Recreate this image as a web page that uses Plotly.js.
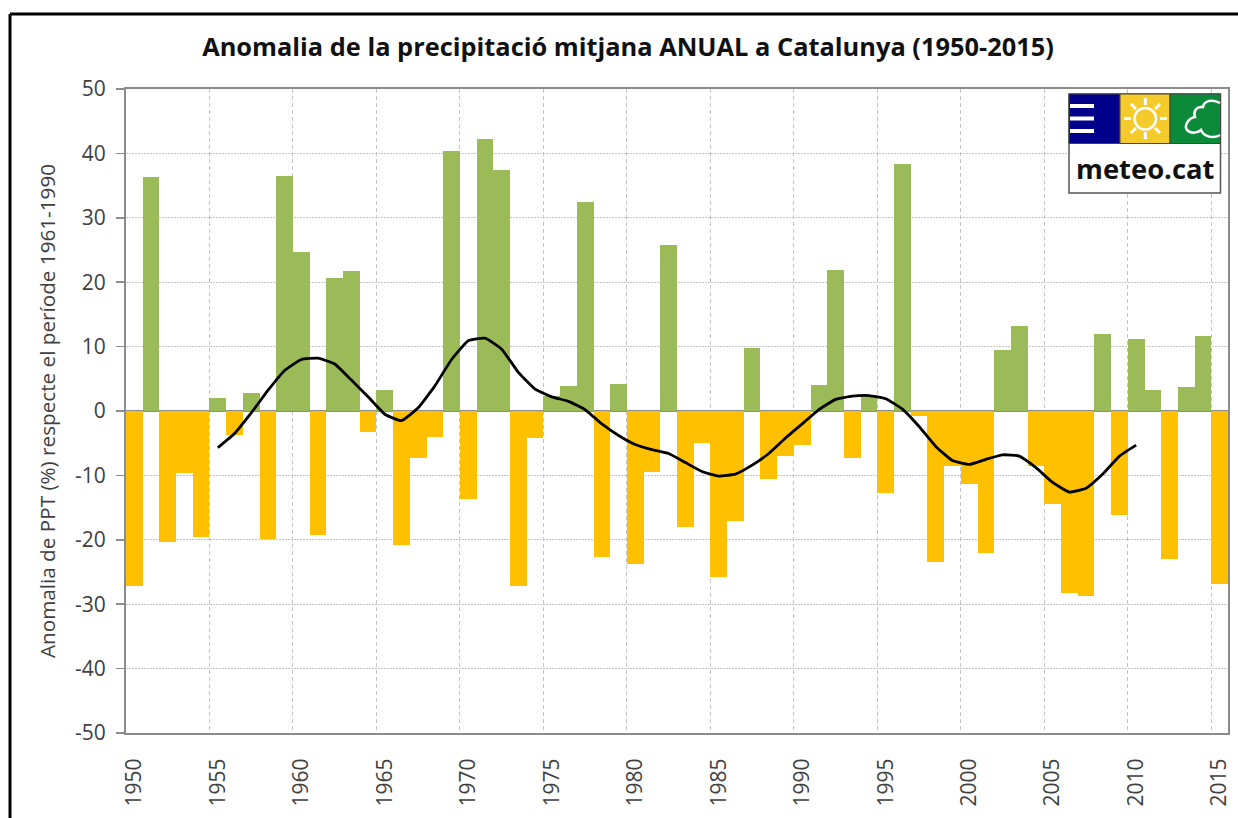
<!DOCTYPE html>
<html>
<head>
<meta charset="utf-8">
<script src="https://cdn.plot.ly/plotly-3.0.1.min.js"></script>
<style>html,body{margin:0;padding:0;background:#fff;overflow:hidden}#c{width:1238px;height:818px}</style>
</head>
<body>
<div id="c"></div>
<script>
const years = [];
for (let y = 1950; y <= 2015; y++) years.push(y);
const anomaly = [-27.2,36.4,-20.4,-9.6,-19.5,2.0,-3.8,2.8,-19.8,36.5,
  24.7,-19.2,20.6,21.8,-3.3,3.2,-20.8,-7.3,-4.0,40.3,
  -13.7,42.2,37.4,-27.1,-4.2,2.4,3.9,32.4,-22.6,4.2,
  -23.8,-9.4,25.8,-18.0,-4.9,-25.7,-17.1,9.8,-10.5,-7.0,
  -5.3,4.1,21.9,-7.3,2.4,-12.7,38.3,-0.7,-23.4,-8.6,
  -11.3,-22.0,9.5,13.2,-8.5,-14.4,-28.3,-28.7,12.0,-16.2,
  11.2,3.3,-23.0,3.8,11.7,-26.8];
const smoothYears = years.slice(5, 61);
const smoothed = [-5.7,-3.5,-0.3,3.2,6.3,8.0,8.2,7.3,4.8,2.2,
  -0.5,-1.5,0.5,3.9,8.0,10.9,11.3,9.6,6.0,3.4,
  2.2,1.5,0.2,-2.0,-3.8,-5.2,-6.0,-6.6,-8.0,-9.4,
  -10.1,-9.8,-8.4,-6.6,-4.2,-2.0,0.2,1.8,2.3,2.4,
  1.9,0.3,-2.4,-5.5,-7.7,-8.3,-7.5,-6.8,-7.0,-8.8,
  -11.1,-12.6,-12.0,-9.8,-7.0,-5.3];
const xTicks = [1950,1955,1960,1965,1970,1975,1980,1985,1990,1995,2000,2005,2010,2015];
const yTicks = [-50,-40,-30,-20,-10,0,10,20,30,40,50];
const GREEN = '#9BBB59', ORANGE = '#FFC000', FONT = '"Open Sans", sans-serif', TXT = '#404040';

const W = 1238, H = 818, L = 126, R = 1228, T = 89, B = 733;
const px = x => (x - L) / (R - L), py = y => (B - y) / (B - T);
const rect = (x0, y0, x1, y1, fill, line, lw) => ({type:'rect', xref:'paper', yref:'paper', layer:'above',
  x0:px(x0), x1:px(x1), y0:py(y0), y1:py(y1), fillcolor:fill, line:{color:line||fill, width:lw===undefined?0:lw}});
const seg = (x0, y0, x1, y1, c, w) => ({type:'line', xref:'paper', yref:'paper', layer:'above',
  x0:px(x0), x1:px(x1), y0:py(y0), y1:py(y1), line:{color:c, width:w}});

const shapes = [
  // outer frame
  seg(10, 14, 1238, 14, '#000', 3),
  seg(10, 14, 10, 818, '#000', 3),
  // logo panels
  rect(1069, 94, 1220.5, 193, '#fff', '#555', 1.5),
  rect(1069, 94, 1120, 143.5, '#00008B', '#444', 1),
  rect(1120, 94, 1170, 143.5, '#F5CB2B', '#444', 1),
  rect(1170, 94, 1220.5, 143.5, '#0B8A3A', '#444', 1),
  seg(1070, 106, 1094, 106, '#fff', 4),
  seg(1070, 118.5, 1094, 118.5, '#fff', 4),
  seg(1070, 131, 1094, 131, '#fff', 4),
  {type:'circle', xref:'paper', yref:'paper', layer:'above', x0:px(1134.5), x1:px(1156), y0:py(129.5), y1:py(108),
    fillcolor:'rgba(0,0,0,0)', line:{color:'#fff', width:2.5}}
];
// sun rays
[[1145.3,98,1145.3,105],[1145.3,132,1145.3,139],[1124,118.5,1131,118.5],[1160,118.5,1167,118.5],
 [1131,104,1136,109],[1155,128,1160,133],[1160,104,1155,109],[1136,128,1131,133]].forEach(r =>
  shapes.push(seg(r[0], r[1], r[2], r[3], '#fff', 3)));
// cloud outline, open at the right edge of the panel
const c = (x, y) => px(x) + ',' + py(y);
shapes.push({type:'path', xref:'paper', yref:'paper', layer:'above', line:{color:'#fff', width:2.5}, fillcolor:'rgba(0,0,0,0)',
  path:'M' + c(1220,103) + ' C' + c(1213,99) + ' ' + c(1204,100) + ' ' + c(1203,107) +
       ' C' + c(1196,106) + ' ' + c(1193,112) + ' ' + c(1195,117) +
       ' C' + c(1188,118) + ' ' + c(1184,126) + ' ' + c(1187,130) +
       ' C' + c(1191,134) + ' ' + c(1198,133) + ' ' + c(1201,130) +
       ' C' + c(1204,137) + ' ' + c(1213,139) + ' ' + c(1220,135)});

const data = [
  {type:'bar', x:years, y:anomaly, width:1,
   marker:{color:anomaly.map(v => v >= 0 ? GREEN : ORANGE), line:{width:0}}, hoverinfo:'x+y'},
  {type:'scatter', mode:'lines', x:smoothYears, y:smoothed, line:{color:'#000', width:2.8, shape:'spline', smoothing:0.4}, hoverinfo:'x+y'}
];
const layout = {
  width:W, height:H, showlegend:false, paper_bgcolor:'#fff', plot_bgcolor:'#fff',
  margin:{l:L, r:W-R, t:T, b:H-B, pad:0},
  font:{family:FONT, color:TXT},
  bargap:0,
  title:{text:'<b>Anomalia de la precipitació mitjana ANUAL a Catalunya (1950-2015)</b>',
    font:{family:FONT, size:25.4, color:'#111'}, x:628/W, xanchor:'center', y:1-47/H, yanchor:'middle'},
  xaxis:{range:[1949.5,2015.5], tickmode:'array', tickvals:xTicks, ticktext:xTicks.map(String), tickangle:-90,
    ticks:'', ticklen:0, ticklabelstandoff:15, tickfont:{size:21, color:TXT, family:FONT}, showgrid:false, zeroline:false,
    showline:true, mirror:true, linecolor:'#8c8c8c', linewidth:2,
    minor:{tickmode:'linear', tick0:1949.5, dtick:5, showgrid:true, gridcolor:'#c4c4c4', griddash:'4px,3px', gridwidth:1, ticks:''}},
  yaxis:{range:[-50,50], tickmode:'array', tickvals:yTicks, ticktext:yTicks.map(String), ticks:'outside', ticklen:8, tickcolor:'#8c8c8c', tickwidth:1.5,
    ticklabelstandoff:6, tickfont:{size:21, color:TXT, family:FONT}, showgrid:true, gridcolor:'#c4c4c4', griddash:'2px,1px', gridwidth:1,
    zeroline:true, zerolinecolor:'#8c8c8c', zerolinewidth:1.5,
    showline:true, mirror:true, linecolor:'#8c8c8c', linewidth:2,
    title:{text:'Anomalia de PPT (%) respecte el període 1961-1990', font:{size:20.7, color:TXT, family:FONT}, standoff:14}},
  shapes:shapes,
  annotations:[{xref:'paper', yref:'paper', x:px(1145), y:py(168), text:'<b>meteo.cat</b>', showarrow:false,
    xanchor:'center', yanchor:'middle', font:{family:FONT, size:27.4, color:'#111'}}]
};
Plotly.newPlot('c', data, layout, {displayModeBar:false, staticPlot:true});
</script>
</body>
</html>
